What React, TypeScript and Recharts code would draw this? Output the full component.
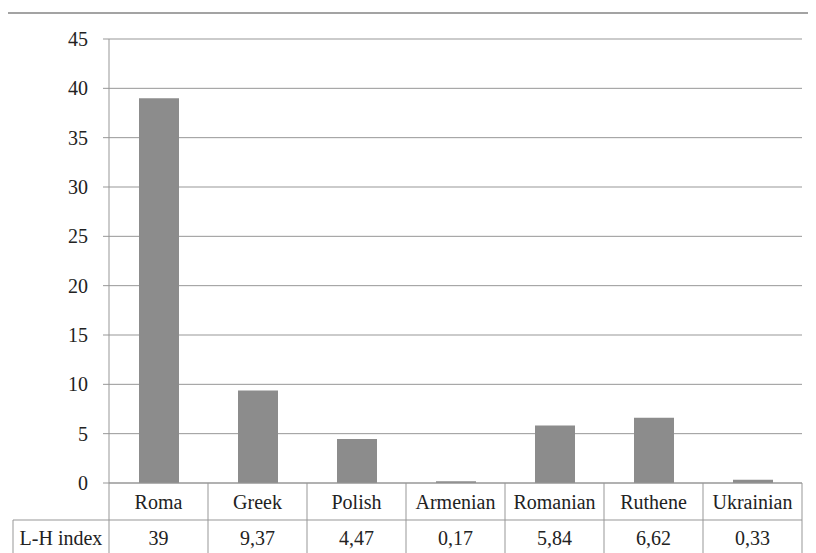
import React from 'react'
import { BarChart, Bar, XAxis, YAxis, CartesianGrid } from 'recharts'

const groups = ['Roma', 'Greek', 'Polish', 'Armenian', 'Romanian', 'Ruthene', 'Ukrainian']
const lhIndex = [39, 9.37, 4.47, 0.17, 5.84, 6.62, 0.33]
const yTicks = [0, 5, 10, 15, 20, 25, 30, 35, 40, 45]
const rowLabel = 'L-H index'

const data = groups.map((g, i) => ({ name: g, value: lhIndex[i] }))

const W = 808
const H = 545
const M = { top: 31, right: 14, left: 0, bottom: 0 }
const Y_W = 101
const X_H = 70
const LINE = '#979797'
const FONT = "'Liberation Serif', 'DejaVu Serif', serif"
const txt = { fontFamily: FONT, fontSize: 20 }

const fmt = (v: number) => String(v).replace('.', ',')

function TableTick(props: any) {
  const { x, y, payload } = props
  const half = payload.offset || (W - Y_W - M.right) / groups.length / 2
  const i = payload.index
  const mid = y + 37
  const bottom = y + X_H
  return (
    <g>
      {i === 0 && (
        <>
          <line x1={x - half} y1={y} x2={x - half} y2={bottom} stroke={LINE} />
          <line x1={5} y1={mid} x2={x - half} y2={mid} stroke={LINE} />
          <line x1={5} y1={mid} x2={5} y2={bottom} stroke={LINE} />
          <text x={(5 + x - half) / 2} y={mid + 18} textAnchor="middle" dominantBaseline="central"
            className="serif" style={txt} fill="#222">{rowLabel}</text>
        </>
      )}
      <line x1={x + half} y1={y} x2={x + half} y2={bottom} stroke={LINE} />
      <line x1={x - half} y1={mid} x2={x + half} y2={mid} stroke={LINE} />
      <text x={x} y={y + 19} textAnchor="middle" dominantBaseline="central"
        className="serif" style={txt} fill="#222">{payload.value}</text>
      <text x={x} y={mid + 18} textAnchor="middle" dominantBaseline="central"
        className="serif" style={txt} fill="#222">{fmt(lhIndex[i])}</text>
    </g>
  )
}

export default function App() {
  return (
    <div style={{ position: 'relative', width: W, height: H }}>
      <style>{`text, tspan, .serif { font-family: ${FONT} !important; }`}</style>
      <div style={{ position: 'absolute', top: 4, left: -2, width: 818, borderTop: '2px solid #a3a3a3' }} />
      <BarChart width={W} height={H} data={data} margin={M} barCategoryGap={0}>
        <CartesianGrid vertical={false} stroke={LINE} />
        <XAxis
          dataKey="name"
          height={X_H}
          interval={0}
          tickLine={false}
          tickSize={0}
          tickMargin={0}
          axisLine={{ stroke: LINE }}
          tick={<TableTick />}
        />
        <YAxis
          width={Y_W}
          domain={[0, 45]}
          ticks={yTicks}
          interval={0}
          tickSize={6}
          tickMargin={15}
          axisLine={{ stroke: LINE }}
          tickLine={{ stroke: LINE }}
          tick={{ style: txt, fill: '#222' }}
        />
        <Bar dataKey="value" fill="#8c8c8c" barSize={40} isAnimationActive={false} />
      </BarChart>
    </div>
  )
}
